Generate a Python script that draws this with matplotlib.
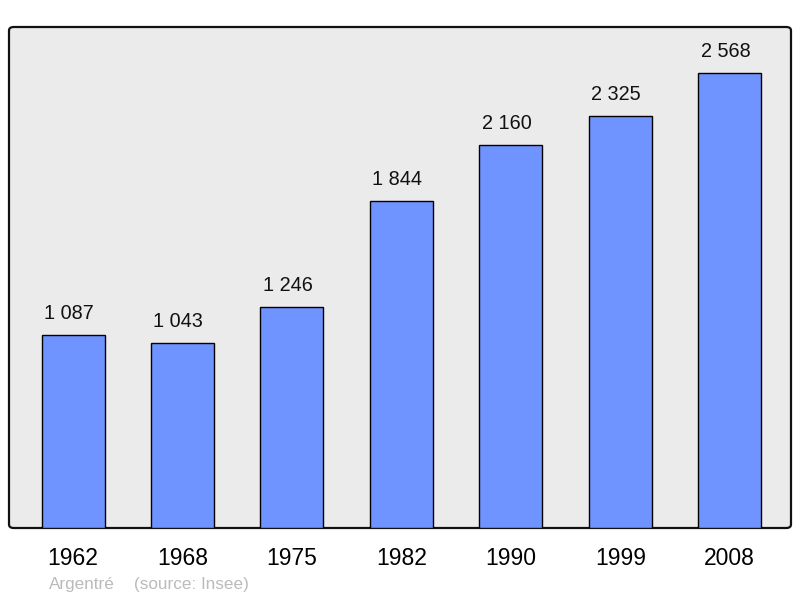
import matplotlib
matplotlib.use("Agg")
import matplotlib.pyplot as plt
from matplotlib.patches import FancyBboxPatch

years = ["1962", "1968", "1975", "1982", "1990", "1999", "2008"]
population = [1087, 1043, 1246, 1844, 2160, 2325, 2568]
value_labels = ["1 087", "1 043", "1 246", "1 844", "2 160", "2 325", "2 568"]
caption_name = "Argentré"
caption_source = "(source: Insee)"

plt.rcParams['font.family'] = ['Liberation Sans', 'DejaVu Sans']

fig = plt.figure(figsize=(8, 5.98), dpi=100)
ax = fig.add_axes([9/800, 70/598, 782/800, 501/598])
ax.set_facecolor('none')
for s in ax.spines.values():
    s.set_visible(False)

frame = FancyBboxPatch((9/800, 70/598), 782/800, 501/598,
                       boxstyle="round,pad=0,rounding_size=0.006",
                       transform=fig.transFigure, facecolor='#ebebeb',
                       edgecolor='#111111', linewidth=1.6, zorder=0,
                       clip_on=False)
ax.add_patch(frame)

x = list(range(len(years)))
ax.bar(x, population, width=0.576, color='#7094ff', edgecolor='#000000',
       linewidth=1.0, zorder=2)
for xi, v, lab in zip(x, population, value_labels):
    ax.annotate(lab, (xi, v), xytext=(-3, 8.7), textcoords='offset points',
                ha='center', va='bottom', fontsize=14.3, color='#111111')

ax.set_xlim(-0.585, 6.56)
ax.set_ylim(0, 2827)
ax.set_yticks([])
ax.set_xticks(x)
ax.set_xticklabels(years, fontsize=16.5)
ax.tick_params(axis='x', length=0, pad=13.5)

fig.text(49/800, 1 - 584/598, caption_name, fontsize=12.3, color='#bbbbbb',
         ha='left', va='center')
fig.text(134/800, 1 - 584/598, caption_source, fontsize=12.3, color='#bbbbbb',
         ha='left', va='center')

fig.savefig('out.png', dpi=100)
